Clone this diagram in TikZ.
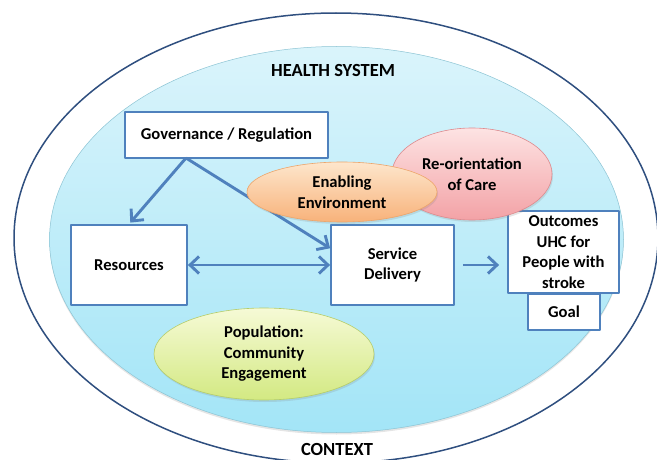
\documentclass[tikz,border=0pt]{standalone}
\usepackage{fontspec}
\setmainfont{Carlito}
\usetikzlibrary{shapes.geometric,arrows.meta,shadows}
\definecolor{boxblue}{HTML}{4F81BD}
\definecolor{ctxblue}{HTML}{2F4F7F}
\definecolor{sysedge}{HTML}{8CC4D4}
\definecolor{systop}{HTML}{DAF4FB}
\definecolor{sysbot}{HTML}{A3E5F7}
\definecolor{envtop}{HTML}{FDE6CC}
\definecolor{envbot}{HTML}{F8B27A}
\definecolor{envedge}{HTML}{EDA56A}
\definecolor{caretop}{HTML}{FDE3E3}
\definecolor{carebot}{HTML}{F3A2A6}
\definecolor{careedge}{HTML}{DE8A8E}
\definecolor{poptop}{HTML}{F6FAD6}
\definecolor{popbot}{HTML}{D3E982}
\definecolor{popedge}{HTML}{B5CD6A}
\begin{document}
\begin{tikzpicture}[x=1pt,y=-1pt,line join=round,
  font=\fontsize{16.6}{20.5}\selectfont\bfseries,
  >={Straight Barb[length=9pt,width=17pt]},
  block/.style={draw=boxblue,line width=1.8pt,fill=white,align=center,inner sep=0pt},
  blob/.style={ellipse,align=center,inner sep=0pt,line width=0.6pt,
    drop shadow={opacity=0.2,shadow xshift=1pt,shadow yshift=-2pt}},
  link/.style={draw=boxblue,line width=2.9pt}]
  \useasboundingbox (0,0) rectangle (657,460);
  \draw[ctxblue,line width=1.5pt,fill=white] (336,238) ellipse [x radius=322,y radius=225];
  \path[draw=sysedge,line width=0.5pt,top color=systop,bottom color=sysbot,
    drop shadow={opacity=0.2,shadow xshift=0pt,shadow yshift=-2pt}]
    (336.5,239.5) ellipse [x radius=287,y radius=193];
  \node (hs) at (333,70) {\fontsize{18.5}{20}\selectfont HEALTH SYSTEM};
  \node (ctx) at (337,449) {\fontsize{18.5}{20}\selectfont CONTEXT};
  \node[block,minimum width=72pt,minimum height=36pt] (goal) at (564,312) {Goal};
  \node[block,minimum width=111pt,minimum height=82pt] (out) at (563.5,252)
    {Outcomes\\UHC for\\People with\\stroke};
  \node[blob,draw=careedge,top color=caretop,bottom color=carebot,
    minimum width=160pt,minimum height=92pt] (care) at (472,174) {Re-orientation\\of Care};
  \node[block,minimum width=203pt,minimum height=46pt] (gov) at (226.5,135)
    {Governance / Regulation};
  \node[block,minimum width=116pt,minimum height=80pt] (res) at (129,265) {Resources};
  \node[block,minimum width=123pt,minimum height=80pt] (serv) at (392.5,265) {Service\\Delivery};
  \coordinate (govfoot) at (186,158);
  \draw[link,->,shorten >=2pt] (govfoot) -- (res.north);
  \draw[link,->] (govfoot) -- (serv.165);
  \draw[link,<->] (res) -- (serv);
  \draw[link,->,shorten <=8pt,shorten >=8pt] (serv.east) -- (serv.east -| out.west);
  \node[blob,draw=envedge,top color=envtop,bottom color=envbot,
    minimum width=190pt,minimum height=60pt] (env) at (342,192) {Enabling\\Environment};
  \node[blob,draw=popedge,top color=poptop,bottom color=popbot,
    minimum width=220pt,minimum height=92pt] (pop) at (264,354)
    {Population:\\Community\\Engagement};
\end{tikzpicture}
\end{document}
